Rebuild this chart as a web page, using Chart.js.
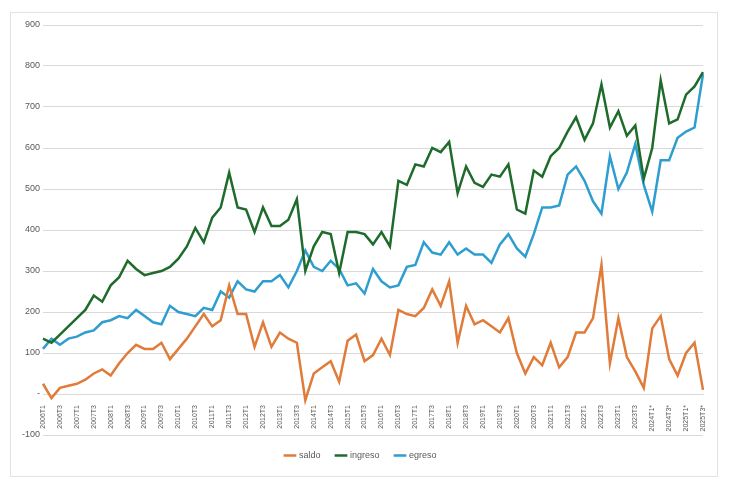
<!DOCTYPE html>
<html lang="es">
<head>
<meta charset="UTF-8">
<title>saldo, ingreso, egreso</title>
<script src="https://cdn.jsdelivr.net/npm/chart.js"></script>
<style>
  * { margin: 0; padding: 0; box-sizing: border-box; }
  body { background: #fff; }
  .box { width: 732px; height: 487px; padding: 12px 14px 10px 10px; }
  .inner { width: 100%; height: 100%; border: 1px solid #e2e2e2; position: relative; }
</style>
</head>
<body>
<div class="box"><div class="inner"><canvas id="c"></canvas></div></div>
<script>
// trimestres 2006T1 .. 2025T3 (los de 2024 en adelante con *)
const years = [2006,2007,2008,2009,2010,2011,2012,2013,2014,2015,2016,2017,2018,2019,2020,2021,2022,2023,2024,2025];
const quarters = ['T1','T2','T3','T4'];
const labels = [];
years.forEach(y => quarters.forEach(q => labels.push(y + q + (y >= 2024 ? '*' : ''))));
labels.length = 79;

const ingreso = [135,125,145,165,185,205,240,225,265,285,
                 325,305,290,295,300,310,330,360,405,370,
                 430,455,540,455,450,395,455,410,410,425,
                 475,300,360,395,390,295,395,395,390,365,
                 395,360,520,510,560,555,600,590,615,490,
                 555,515,505,535,530,560,450,440,545,530,
                 580,600,640,675,620,660,755,650,690,630,
                 655,525,600,765,660,670,730,750,785];
const egreso = [110,135,120,135,140,150,155,175,180,190,
                185,205,190,175,170,215,200,195,190,210,
                205,250,235,275,255,250,275,275,290,260,
                300,350,310,300,325,305,265,270,245,305,
                275,260,265,310,315,370,345,340,370,340,
                355,340,340,320,365,390,355,335,390,455,
                455,460,535,555,520,470,440,580,500,540,
                610,510,445,570,570,625,640,650,780];
const saldo = [25,-10,15,20,25,35,50,60,45,75,
               100,120,110,110,125,85,110,135,165,195,
               165,180,265,195,195,115,175,115,150,135,
               125,-15,50,65,80,30,130,145,80,95,
               135,95,205,195,190,210,255,215,275,125,
               215,170,180,165,150,185,100,50,90,70,
               125,65,90,150,150,185,315,75,185,90,
               55,15,160,190,85,45,100,125,10];

const yTicks = { min: -100, max: 900, step: 100 };

function serie(label, data, color) {
  return { label, data, borderColor: color, backgroundColor: color,
           borderWidth: 2.5, pointRadius: 0, tension: 0 };
}

new Chart(document.getElementById('c'), {
  type: 'line',
  data: {
    labels,
    datasets: [
      serie('saldo', saldo, '#E07B39'),
      serie('ingreso', ingreso, '#1F6B2C'),
      serie('egreso', egreso, '#2E9ED0')
    ]
  },
  options: {
    responsive: true,
    maintainAspectRatio: false,
    animation: false,
    layout: { padding: { top: 12, right: 14, left: 8, bottom: 6 } },
    scales: {
      y: {
        min: yTicks.min, max: yTicks.max,
        ticks: { stepSize: yTicks.step, color: '#595959', font: { size: 9 },
                 callback: v => v === 0 ? '-' : v },
        grid: { color: '#d9d9d9', drawTicks: false },
        border: { display: false }
      },
      x: {
        position: { y: 0 },
        grid: { display: false },
        border: { color: '#d9d9d9' },
        ticks: {
          autoSkip: false, maxRotation: 90, minRotation: 90,
          color: '#595959', font: { size: 7 },
          callback: (v, i) => i % 2 === 0 ? labels[i] : ''
        }
      }
    },
    plugins: {
      legend: {
        position: 'bottom',
        labels: { usePointStyle: true, pointStyle: 'line', boxWidth: 26,
                  color: '#595959', font: { size: 9 }, padding: 16 }
      },
      tooltip: { enabled: false }
    }
  }
});
</script>
</body>
</html>
